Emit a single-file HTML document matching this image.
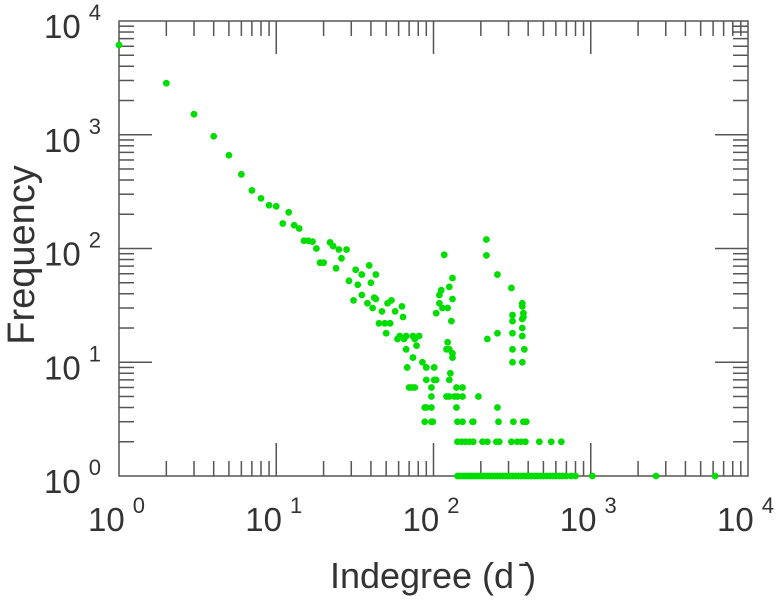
<!DOCTYPE html>
<html><head><meta charset="utf-8"><style>
html,body{margin:0;padding:0;background:#fff;}
svg{display:block;font-family:"Liberation Sans",Arial,sans-serif;}
</style></head><body>
<svg id="chart" width="779" height="600" viewBox="0 0 779 600" xmlns="http://www.w3.org/2000/svg">
<g id="ticks"></g>
<rect x="119" y="21" width="629" height="455" fill="none" stroke="#555" stroke-width="1.5"/>
<g id="points"></g>
<g id="labels"></g>
<text x="433" y="588" font-size="36" text-anchor="middle" fill="#333">Indegree (d  ̄)</text>
<text transform="translate(34,255) rotate(-90)" font-size="38" text-anchor="middle" fill="#333">Frequency</text>
</svg>
<script>
const xDecades = [0, 1, 2, 3, 4];
const yDecades = [0, 1, 2, 3, 4];
const degrees = [1,2,3,4,5,6,7,8,9,10,12,11,13,14,15,16,17,18,19,20,22,23,25,28,26,24,32,39,43,35,29,33,40,31,35,38,41,42,47,54,57,63,45,49,53,50,64,61,67,74,81,
43,51,59,65,76,78,67,74,85,68,90,101,90,101,73,76,97,97,90,97,88,97,70,88,99,104,
117,132,126,112,109,132,109,114,123,104,130,123,121,126,132,132,128,121,140,136,126,126,142,153,153,140,142,153,179,
142,151,160,169,179,205,220,251,262,313,341,362,384,471,561,650,
217,217,255,313,367,367,373,318,373,367,318,367,318,367,318,378,318,367,220,255,193,255,259,322,373,389,177,
142,146,150,155,160,165,170,175,180,186,192,198,205,212,220,228,236,245,255,265,275,285,296,308,320,333,346,360,375,390,405,420,440,460,480,500,525,550,575,600,630,660,700,750,800,1023,2600,6170];
const frequencies = [6150,2840,1517,970,660,449,324,276,240,235,208,166,160,150,117,117,115,100,75,75,113,105,98,98,82,67,65,71,59,59,52,48,50,35,39,33,30,37,28,35,28,31,22,22,22,18,25,17,17,17,17,
36,33,16,16,16,14,13,11,10,9,9,9,7,7,6,6,6,5,4,4,3,3,6,4,3,7,
88,55,46,43,39,36,33,30,30,27,23,15,13,13,12,11,8,5,6,5,7,5,5,5,6,4,3,3,3,
2,2,2,2,2,2,2,2,2,2,2,2,2,2,2,2,
120,87,59,45,33,31,27,26,25,24,23,20,18,17,13,13,10,10,16,18,5,4,3,3,3,3,3,
1,1,1,1,1,1,1,1,1,1,1,1,1,1,1,1,1,1,1,1,1,1,1,1,1,1,1,1,1,1,1,1,1,1,1,1,1,1,1,1,1,1,1,1,1,1,1,1];

const NS = "http://www.w3.org/2000/svg";
const X0 = 119, X1 = 748, Y0 = 476, Y1 = 21;
function xScale(v){ return X0 + Math.log10(v) / 4 * (X1 - X0); }
function yScale(v){ return Y0 - Math.log10(v) / 4 * (Y0 - Y1); }

const tg = document.getElementById('ticks');
function line(x1,y1,x2,y2){
  const l = document.createElementNS(NS,'line');
  l.setAttribute('x1',x1); l.setAttribute('y1',y1); l.setAttribute('x2',x2); l.setAttribute('y2',y2);
  l.setAttribute('stroke','#555'); l.setAttribute('stroke-width','1.5');
  
  
  tg.appendChild(l);
}
for (let d = 0; d < 4; d++) {
  for (let m = 1; m < 10; m++) {
    const v = Math.pow(10, d) * m;
    const len = m === 1 ? 33 : 15;
    const x = xScale(v);
    if (m !== 1 || d > 0) { line(x, Y0, x, Y0 - len); line(x, Y1, x, Y1 + len); }
    const y = yScale(v);
    if (m !== 1 || d > 0) { line(X0, y, X0 + len, y); line(X1, y, X1 - len, y); }
  }
}
const lg = document.getElementById('labels');
function label(x, y, exp, name){
  const t = document.createElementNS(NS,'text');
  t.setAttribute('x', x); t.setAttribute('y', y);
  t.setAttribute('font-size','33'); t.setAttribute('fill','#333');
  
  
  t.textContent = '10';
  const s = document.createElementNS(NS,'tspan');
  s.setAttribute('font-size','22'); s.setAttribute('dx','8'); s.setAttribute('dy','-18');
  s.textContent = String(exp);
  t.appendChild(s);
  lg.appendChild(t);
}
xDecades.forEach(e => label(xScale(Math.pow(10,e)) - 31, 531, e, 'x-tick-label'));
yDecades.forEach(e => label(44, yScale(Math.pow(10,e)) + 17, e, 'y-tick-label'));

const pg = document.getElementById('points');
for (let i = 0; i < degrees.length; i++) {
  const c = document.createElementNS(NS,'circle');
  c.setAttribute('cx', xScale(degrees[i]));
  c.setAttribute('cy', yScale(frequencies[i]));
  c.setAttribute('r', 3.4);
  c.setAttribute('fill', '#00dd00');
  
  
  pg.appendChild(c);
}
</script>
</body></html>
